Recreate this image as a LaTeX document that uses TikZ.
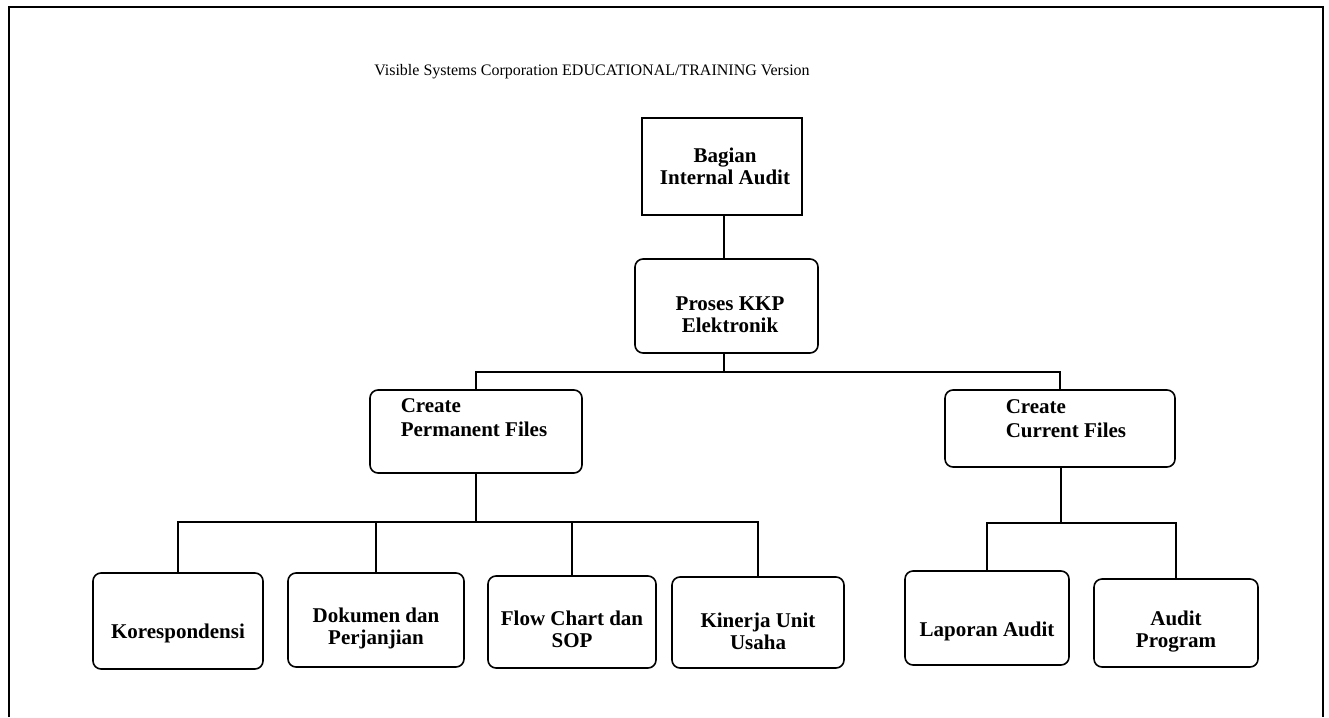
\documentclass[tikz,border=0pt]{standalone}
\usepackage{fontspec}
\setmainfont{Liberation Serif}
\begin{document}
\begin{tikzpicture}[x=1pt,y=-1pt,
  line width=1.6pt,
  boxsq/.style={draw, rectangle, inner sep=0pt},
  boxrd/.style={draw, rectangle, rounded corners=8pt, inner sep=0pt},
  lbl/.style={align=center, inner sep=0pt, font=\fontsize{21}{22}\selectfont\bfseries},
  lbll/.style={align=left, anchor=west, inner sep=0pt, font=\fontsize{21}{24}\selectfont\bfseries},
  conn/.style={line width=1.6pt}
]
\useasboundingbox (0,0) rectangle (1329,717);
% frame
\draw[line width=1.8pt] (9,717) -- (9,7) -- (1323,7) -- (1323,717);
% title
\node[inner sep=0pt, font=\fontsize{16}{18}\selectfont] (title) at (592,72) {Visible Systems Corporation EDUCATIONAL/TRAINING Version};

% boxes
\node[boxsq, minimum width=160pt, minimum height=97pt] (bia) at (722,166.5) {};
\node[boxrd, minimum width=183pt, minimum height=94pt] (pro) at (726.5,306) {};
\node[boxrd, minimum width=212pt, minimum height=83pt] (cpf) at (476,431.5) {};
\node[boxrd, minimum width=230pt, minimum height=77pt] (ccf) at (1060,428.5) {};
\node[boxrd, minimum width=170pt, minimum height=96pt] (kor) at (178,621) {};
\node[boxrd, minimum width=176pt, minimum height=94pt] (dok) at (376,620) {};
\node[boxrd, minimum width=168pt, minimum height=92pt] (flo) at (572,622) {};
\node[boxrd, minimum width=172pt, minimum height=91pt] (kin) at (758,622.5) {};
\node[boxrd, minimum width=164pt, minimum height=94pt] (lap) at (987,618) {};
\node[boxrd, minimum width=164pt, minimum height=88pt] (aud) at (1176,623) {};

% labels
\node[lbl] (bia-t) at (725,166) {Bagian\\Internal Audit};
\node[lbl] (pro-t) at (730,315) {Proses KKP\\Elektronik};
\node[lbll] (cpf-t) at (400,418) {Create\\Permanent Files};
\node[lbll] (ccf-t) at (1005,419) {Create\\Current Files};
\node[lbl] (kor-t) at (178,633) {Korespondensi};
\node[lbl] (dok-t) at (376,628) {Dokumen dan\\Perjanjian};
\node[lbl] (flo-t) at (572,629) {Flow Chart dan\\SOP};
\node[lbl] (kin-t) at (758,631) {Kinerja Unit\\Usaha};
\node[lbl] (lap-t) at (987,631) {Laporan Audit};
\node[lbl] (aud-t) at (1176,632) {Audit\\Program};

% junction coordinates
\coordinate (b1) at (724,372);
\coordinate (b2) at (476,522);
\coordinate (b3) at (1061,523);

% connectors
\draw[conn] (bia.south -| b1) -- (pro.north -| b1);
\draw[conn] (pro.south -| b1) -- (b1);
\draw[conn] (cpf.north) |- (b1) -| (ccf.north);
\draw[conn] (cpf.south) -- (b2);
\draw[conn] (kor.north) |- (b2) -| (kin.north);
\draw[conn] (dok.north) -- (dok.north |- b2);
\draw[conn] (flo.north) -- (flo.north |- b2);
\draw[conn] (ccf.south -| b3) -- (b3);
\draw[conn] (lap.north) |- (b3) -| (aud.north);
\end{tikzpicture}
\end{document}
